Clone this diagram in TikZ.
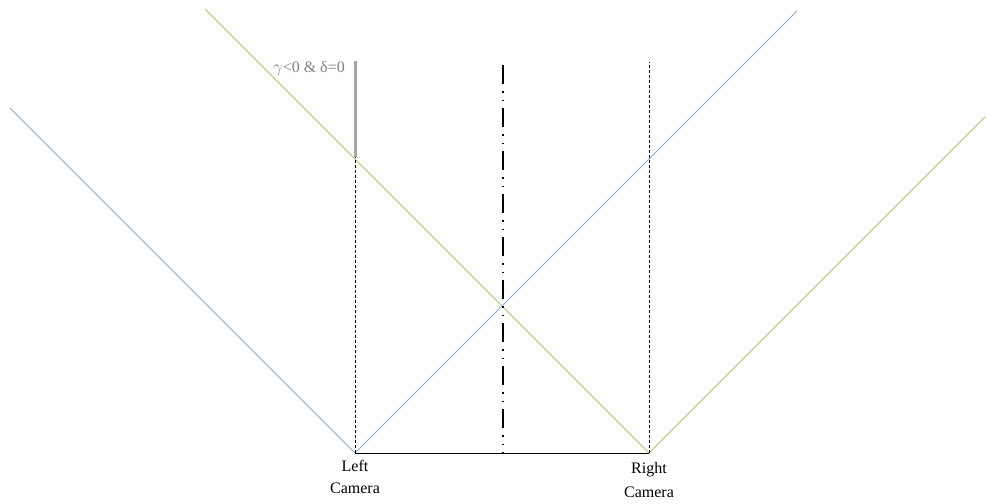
\documentclass[tikz,border=0pt]{standalone}
\usepackage{fontspec}
\setmainfont{Liberation Serif}
\begin{document}
\begin{tikzpicture}[x=1pt,y=-1pt,
  blueray/.style={draw={rgb,255:red,135;green,170;blue,205},line width=1pt},
  greenray/.style={draw={rgb,255:red,165;green,200;blue,120},line width=1pt},
  thindash/.style={draw=black,line width=0.7pt,dash pattern=on 3pt off 2pt},
  centerline/.style={draw=black,line width=1.8pt,dash pattern=on 19pt off 7pt on 1.5pt off 7pt on 1.5pt off 7pt},
  graybar/.style={draw={rgb,255:red,165;green,165;blue,165},line width=3pt},
  lbl/.style={font=\fontsize{16}{18}\selectfont,inner sep=0pt}]
\useasboundingbox (0,0) rectangle (987,503);
\coordinate (L) at (355,453);
\coordinate (R) at (649,453);
\coordinate (bl) at (10,108);
\coordinate (br) at (797,11);
\coordinate (gl) at (205,9);
\coordinate (gr) at (985,117);
\coordinate (Ltop) at (355,157);
\coordinate (Rtop) at (649,62);
\coordinate (Ctop) at (503,65);
\coordinate (Cbot) at (503,453);
\coordinate (Gtop) at (355,61);
% rays
\draw[blueray] (bl) -- (L) -- (br);
\draw[greenray] (gl) -- (R) -- (gr);
% baseline
\draw[black,line width=0.9pt] (L) -- (R);
% verticals
\draw[thindash] (L) -- (Ltop);
\draw[thindash] (R) -- (Rtop);
\draw[centerline] (Ctop) -- (Cbot);
\draw[graybar] (Gtop) -- (Ltop);
% labels
\node[lbl,anchor=east,text={rgb,255:red,130;green,130;blue,130}] (g) at (345,69) {$\gamma$<0 \& δ=0};
\node[lbl] (l1) at (355,466) {Left};
\node[lbl] (l2) at (355,488) {Camera};
\node[lbl] (r1) at (649,470) {Right};
\node[lbl] (r2) at (649,492) {Camera};
\end{tikzpicture}
\end{document}
